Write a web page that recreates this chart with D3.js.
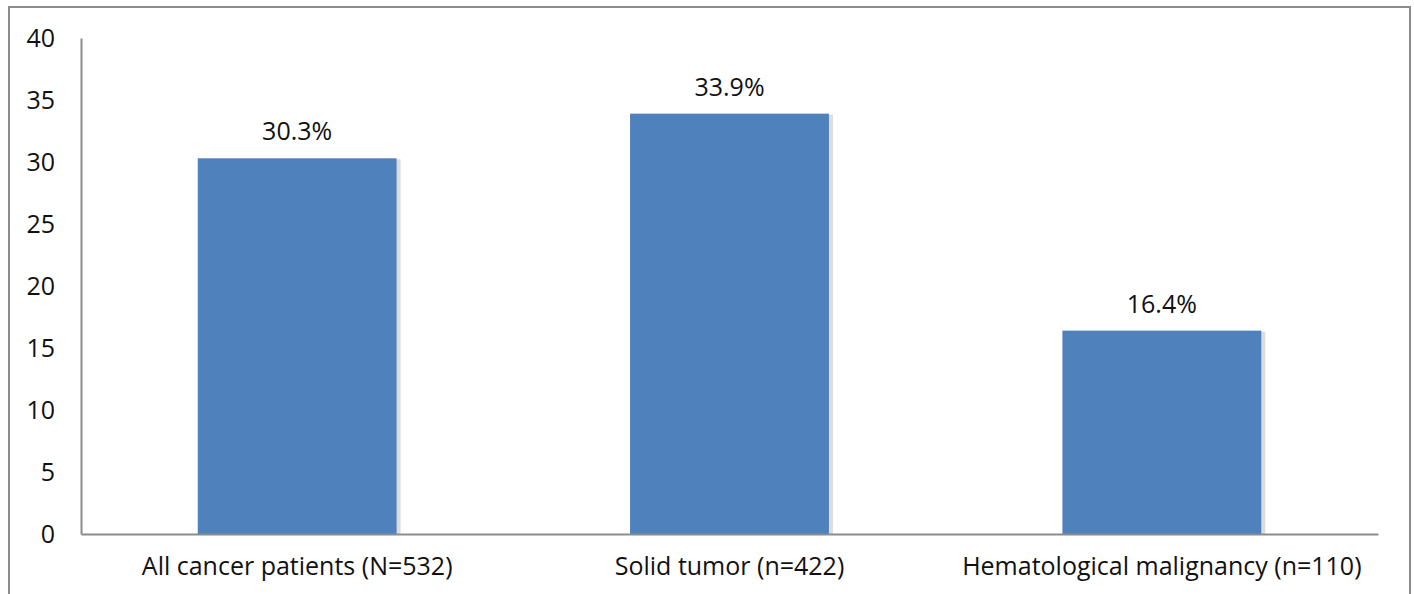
<!DOCTYPE html>
<html>
<head>
<meta charset="utf-8">
<script src="https://cdn.jsdelivr.net/npm/d3@7"></script>
<style>
  html, body { margin: 0; padding: 0; background: #fff; }
  svg { display: block; }
</style>
</head>
<body>
<svg id="chart" width="1414" height="594"></svg>
<script>
// Share of patients by group (%)
const categories = ["All cancer patients (N=532)", "Solid tumor (n=422)", "Hematological malignancy (n=110)"];
const values = [30.3, 33.9, 16.4];
const valueLabels = ["30.3%", "33.9%", "16.4%"];
const yTicks = [0, 5, 10, 15, 20, 25, 30, 35, 40];

const svg = d3.select("#chart");
const font = "'Open Sans', 'Noto Sans', sans-serif";
const fontSize = 25;

// outer frame
svg.append("rect")
  .attr("x", 9).attr("y", 7)
  .attr("width", 1401).attr("height", 600)
  .attr("fill", "none").attr("stroke", "#8c8c8c").attr("stroke-width", 2);

const plot = { left: 81, right: 1378, top: 38, bottom: 534 };

const x = d3.scaleBand()
  .domain(categories)
  .range([plot.left, plot.right])
  .paddingInner(0.54)
  .paddingOuter(0.27);

const y = d3.scaleLinear()
  .domain([0, 40])
  .range([plot.bottom, plot.top]);

// bar shadows
svg.append("g").selectAll("rect")
  .data(values)
  .join("rect")
  .attr("x", (d, i) => x(categories[i]) + 2)
  .attr("y", d => y(d) + 1)
  .attr("width", x.bandwidth() + 2)
  .attr("height", d => plot.bottom - y(d) - 1)
  .attr("fill", "#dcdcdc");

// bars
svg.append("g").selectAll("rect")
  .data(values)
  .join("rect")
  .attr("x", (d, i) => x(categories[i]))
  .attr("y", d => y(d))
  .attr("width", x.bandwidth())
  .attr("height", d => plot.bottom - y(d))
  .attr("fill", "#4f81bd");

// value labels
svg.append("g").selectAll("text")
  .data(values)
  .join("text")
  .attr("x", (d, i) => x(categories[i]) + x.bandwidth() / 2)
  .attr("y", d => y(d) - 18)
  .attr("text-anchor", "middle")
  .attr("font-family", font)
  .attr("font-size", fontSize)
  .attr("fill", "#111")
  .text((d, i) => valueLabels[i]);

// y axis
const yAxis = svg.append("g")
  .attr("transform", `translate(${plot.left},0)`)
  .call(d3.axisLeft(y).tickValues(yTicks).tickSize(0).tickPadding(26));
yAxis.select(".domain").attr("stroke", "#8c8c8c").attr("stroke-width", 2);
yAxis.selectAll("text")
  .attr("font-family", font)
  .attr("font-size", fontSize)
  .attr("fill", "#111");

// x axis
const xAxis = svg.append("g")
  .attr("transform", `translate(0,${plot.bottom})`)
  .call(d3.axisBottom(x).tickSize(0).tickPadding(23));
xAxis.select(".domain").attr("stroke", "#8c8c8c").attr("stroke-width", 2);
xAxis.selectAll("text")
  .attr("font-family", font)
  .attr("font-size", fontSize)
  .attr("fill", "#111");
</script>
</body>
</html>
